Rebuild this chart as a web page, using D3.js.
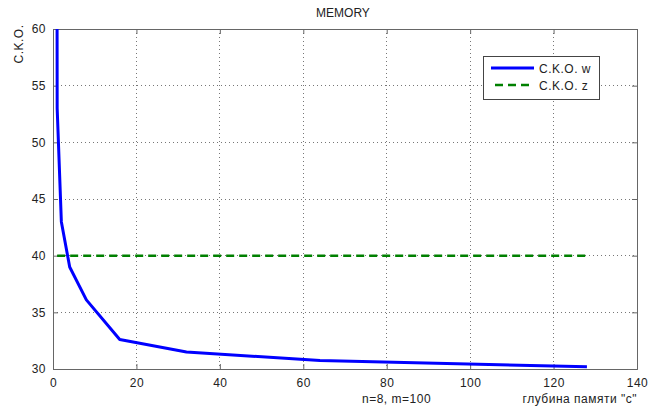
<!DOCTYPE html>
<html><head><meta charset="utf-8">
<script src="https://cdn.jsdelivr.net/npm/d3@7"></script>
<style>body{margin:0;background:#fff}svg{display:block}text{font-family:"Liberation Sans",Arial,sans-serif;}</style>
</head><body><svg id="c" width="649" height="410"></svg>
<script>
const depth = [0, 1, 2, 4, 8, 16, 32, 64, 128];
const skoW = [400, 53, 43, 39.0, 36.1, 32.6, 31.5, 30.75, 30.2];
const zDepth = [1, 128];
const skoZ = [40, 40];
const xTicks = [0, 20, 40, 60, 80, 100, 120, 140];
const yTicks = [30, 35, 40, 45, 50, 55, 60];
const seriesNames = ["C.K.O. w", "C.K.O. z"];

const svg = d3.select("#c");
const L = 53, R = 637, T = 29, B = 369;
const x = d3.scaleLinear().domain([0, 140]).range([L, R]);
const y = d3.scaleLinear().domain([30, 60]).range([B, T]);
const txt = "#222", axc = "#666";
const FS = "12px", LS = "0.5px";
function styleText(s) { return s.attr("fill", txt).style("font-size", FS).style("letter-spacing", LS)
  .style("font-family", '"Liberation Sans",Arial,sans-serif'); }

// grid
const g = svg.append("g");
g.selectAll(".gx").data(xTicks.slice(1, -1)).enter().append("line")
  .attr("x1", d => x(d)).attr("x2", d => x(d)).attr("y1", T).attr("y2", B)
  .attr("stroke", "#777").attr("stroke-dasharray", "1,3").attr("shape-rendering", "crispEdges");
g.selectAll(".gy").data(yTicks.slice(1, -1)).enter().append("line")
  .attr("y1", d => y(d)).attr("y2", d => y(d)).attr("x1", L).attr("x2", R)
  .attr("stroke", "#777").attr("stroke-dasharray", "1,3").attr("shape-rendering", "crispEdges");

// axes
const xa = svg.append("g").attr("transform", `translate(0,${B})`)
  .call(d3.axisBottom(x).tickValues(xTicks).tickSize(-5).tickPadding(9));
const xt = svg.append("g").attr("transform", `translate(0,${T})`)
  .call(d3.axisTop(x).tickValues(xTicks).tickSize(-5).tickFormat(""));
const ya = svg.append("g").attr("transform", `translate(${L},0)`)
  .call(d3.axisLeft(y).tickValues(yTicks).tickSize(-5).tickPadding(7));
const yr = svg.append("g").attr("transform", `translate(${R},0)`)
  .call(d3.axisRight(y).tickValues(yTicks).tickSize(-5).tickFormat(""));
[xa, xt, ya, yr].forEach(a => {
  a.selectAll("path").attr("stroke", axc);
  a.selectAll("line").attr("stroke", axc);
  styleText(a.selectAll("text"));
});

// clip
svg.append("clipPath").attr("id", "clip").append("rect")
  .attr("x", L).attr("y", T).attr("width", R - L).attr("height", B - T);

const line = d3.line().x(d => x(d[0])).y(d => y(d[1]));
svg.append("path").datum(zDepth.map((d, i) => [d, skoZ[i]]))
  .attr("d", line).attr("fill", "none").attr("stroke", "#008000")
  .attr("stroke-width", 2.5).attr("stroke-dasharray", "8,5").attr("clip-path", "url(#clip)");
svg.append("path").datum(depth.map((d, i) => [d, skoW[i]]))
  .attr("d", line).attr("fill", "none").attr("stroke", "#0000ff")
  .attr("stroke-width", 3).attr("stroke-linejoin", "round").attr("clip-path", "url(#clip)");

// title & labels
svg.append("text").attr("x", (L + R) / 2 - 2).attr("y", 17).attr("text-anchor", "middle")
  .attr("fill", txt).style("font-size", "12px").text("MEMORY");
styleText(svg.append("text").attr("transform", "translate(23,44) rotate(-90)").attr("text-anchor", "middle")).text("C.K.O.");
styleText(svg.append("text").attr("x", 362).attr("y", 403)).text("n=8, m=100");
styleText(svg.append("text").attr("x", 637).attr("y", 403).attr("text-anchor", "end")).text("глубина памяти \"c\"");

// legend
const lg = svg.append("g");
lg.append("rect").attr("x", 483.5).attr("y", 56.5).attr("width", 116).attr("height", 43)
  .attr("fill", "#fff").attr("stroke", "#444");
const cols = ["#0000ff", "#008000"], dashes = [null, "8,5"];
seriesNames.forEach((n, i) => {
  const yy = 68 + i * 17;
  lg.append("line").attr("x1", i ? 495 : 491).attr("x2", 534).attr("y1", yy).attr("y2", yy)
    .attr("stroke", cols[i]).attr("stroke-width", i ? 2.5 : 3).attr("stroke-dasharray", dashes[i]);
  styleText(lg.append("text").attr("x", 539).attr("y", yy + 4.5)).text(n);
});
</script></body></html>
